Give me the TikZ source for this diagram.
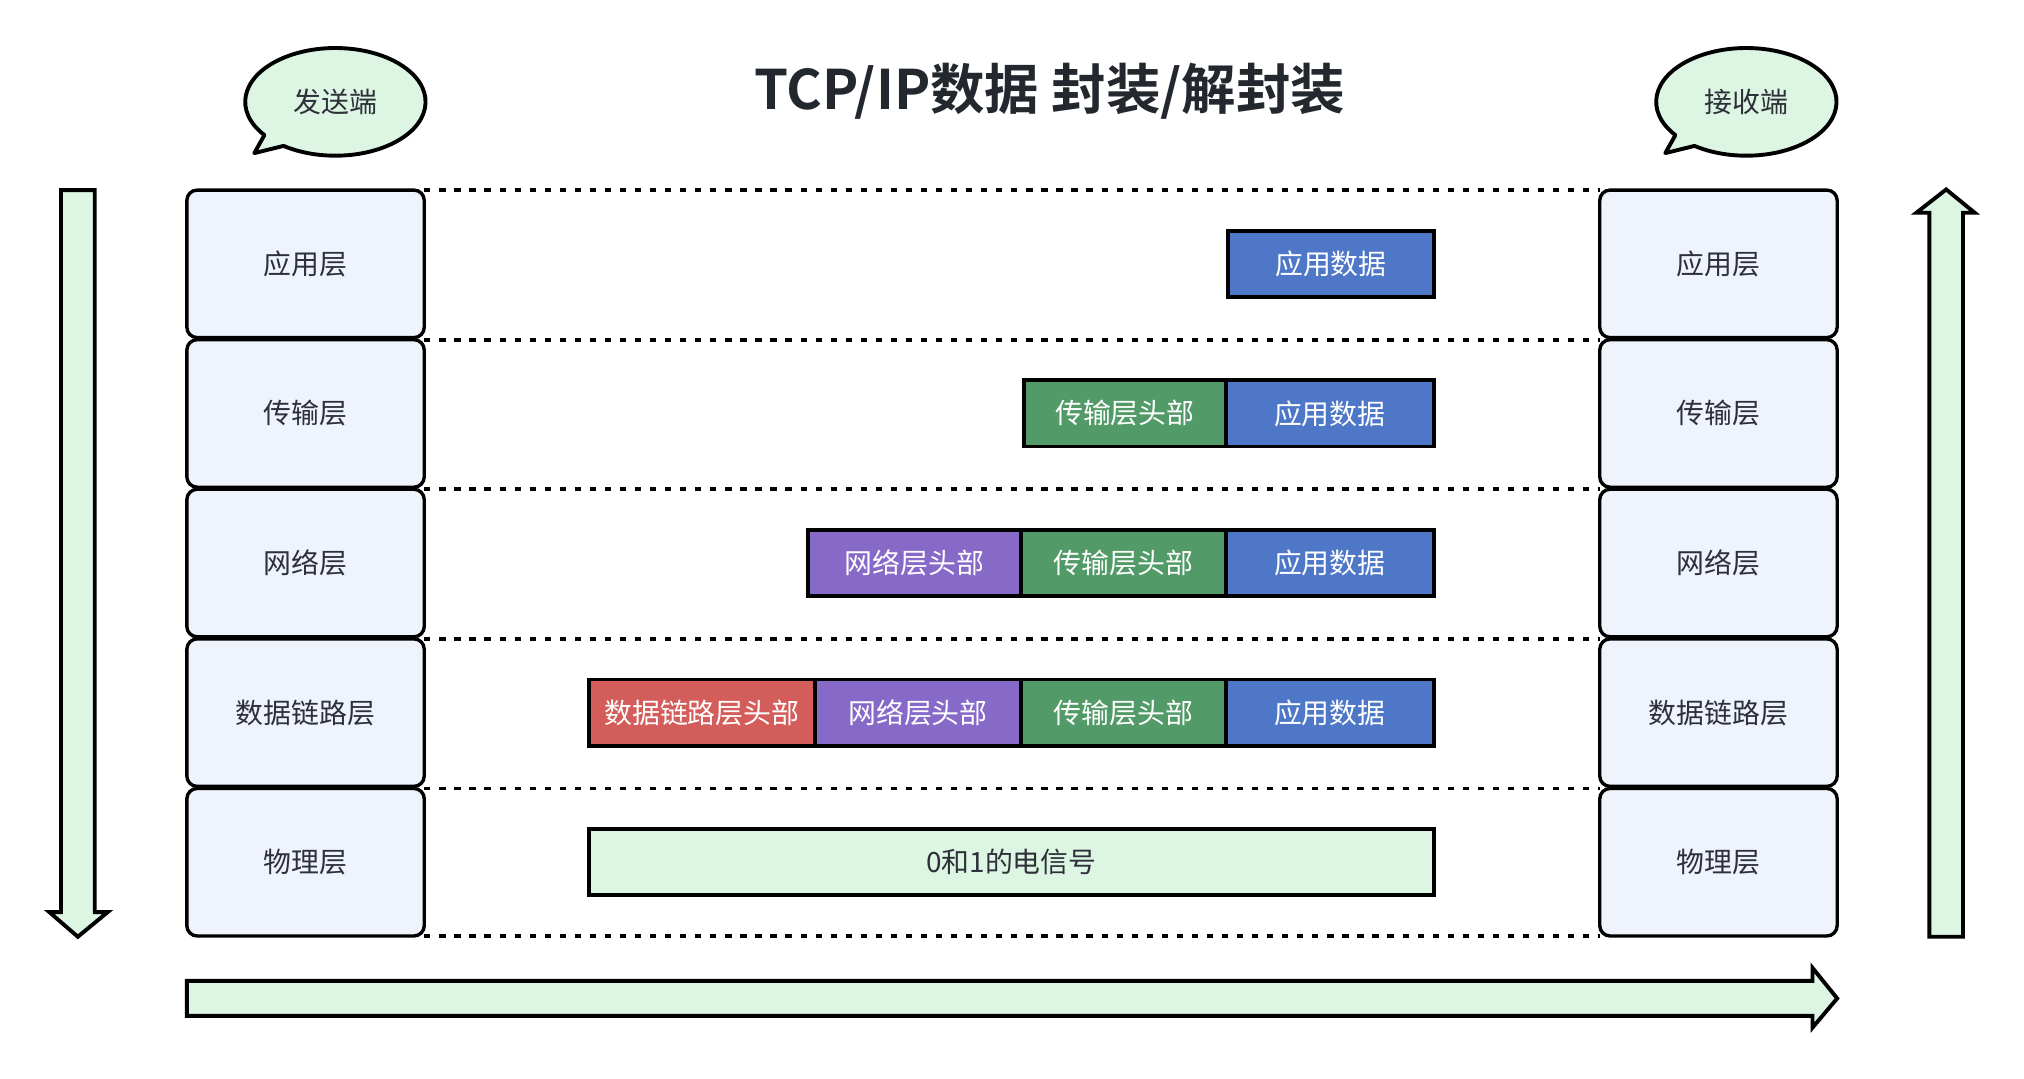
\documentclass[tikz,border=0pt]{standalone}
\usepackage{fontspec}
\setmainfont{Noto Sans CJK SC}[BoldFont={* Bold}]
\definecolor{boxfill}{HTML}{EEF3FC}
\definecolor{lgreen}{HTML}{DDF5E3}
\definecolor{cblue}{HTML}{4E78C7}
\definecolor{cgreen}{HTML}{529A67}
\definecolor{cpurple}{HTML}{8769C8}
\definecolor{cred}{HTML}{D35D5A}
\definecolor{tdark}{HTML}{2D3038}
\definecolor{ttitle}{HTML}{23272E}
\begin{document}
\begin{tikzpicture}[x=1pt,y=-1pt,
  txt/.style={font=\fontsize{21.5}{26}\selectfont},
  layer/.style={txt, draw=black, line width=2.6pt, fill=boxfill, rounded corners=8pt,
    minimum width=183pt, minimum height=113.7pt, inner sep=0pt, outer sep=0pt, text=tdark},
  pkt/.style={txt, draw=black, line width=3pt, minimum height=51pt, inner sep=0pt,
    outer sep=0pt, text=white, anchor=west},
  dotline/.style={line width=3pt, dash pattern=on 4.8pt off 6.8pt},
  bubble/.style={draw=black, line width=3pt, fill=lgreen, line join=round},
  bigarrow/.style={draw=black, line width=3pt, fill=lgreen, line join=miter}
]
\useasboundingbox (0,0) rectangle (1560,831);

% title
\node[font=\fontsize{42}{48}\selectfont\bfseries, text=ttitle] (title) at (809,70) {TCP/IP数据 封装/解封装};

% speech bubbles
\draw[bubble] (258.5,78.5) ++(141.9:69.5 and 41.5)
  arc[start angle=141.9, end angle=485.1, x radius=69.5, y radius=41.5] -- (196,118) -- cycle;
\node[txt, text=tdark] (snd) at (258.5,78.5) {发送端};
\draw[bubble] (1346,78.5) ++(141.9:69.5 and 41.5)
  arc[start angle=141.9, end angle=485.1, x radius=69.5, y radius=41.5] -- (1283.5,118) -- cycle;
\node[txt, text=tdark] (rcv) at (1346,78.5) {接收端};

% big arrows
\draw[bigarrow] (47,146.5) -- (73,146.5) -- (73,703) -- (83,703) -- (60,722) -- (38,703) -- (47,703) -- cycle;
\draw[bigarrow] (1487,722) -- (1513,722) -- (1513,164) -- (1522,164) -- (1500,146) -- (1477,164) -- (1487,164) -- cycle;
\draw[bigarrow] (144,756) -- (1397,756) -- (1397,746) -- (1416,769.5) -- (1397,792) -- (1397,783) -- (144,783) -- cycle;

% layer boxes
\foreach \n/\t/\c in {1/应用层/203.35, 2/传输层/318.65, 3/网络层/433.95, 4/数据链路层/549.25, 5/物理层/664.55}{
  \node[layer] (L\n) at (235.5,\c) {\t};
  \node[layer] (R\n) at (1324.5,\c) {\t};
}

% dotted separators
\draw[dotline] (L1.north east) -- (R1.north west);
\draw[dotline] (L2.north east) -- (R2.north west);
\draw[dotline] (L3.north east) -- (R3.north west);
\draw[dotline] (L4.north east) -- (R4.north west);
\draw[dotline] (L5.north east) -- (R5.north west);
\draw[dotline] (L5.south east) -- (R5.south west);

% packets
\node[pkt, fill=cblue, minimum width=158.4pt] (p1a) at (946.6,203.35) {应用数据};

\node[pkt, fill=cgreen, minimum width=156pt] (p2t) at (789,318.65) {传输层头部};
\node[pkt, fill=cblue, minimum width=160pt] (p2a) at (p2t.east) {应用数据};

\node[pkt, fill=cpurple, minimum width=164pt] (p3n) at (623,433.95) {网络层头部};
\node[pkt, fill=cgreen, minimum width=158pt] (p3t) at (p3n.east) {传输层头部};
\node[pkt, fill=cblue, minimum width=160pt] (p3a) at (p3t.east) {应用数据};

\node[pkt, fill=cred, minimum width=174pt] (p4d) at (454,549.25) {数据链路层头部};
\node[pkt, fill=cpurple, minimum width=159pt] (p4n) at (p4d.east) {网络层头部};
\node[pkt, fill=cgreen, minimum width=158pt] (p4t) at (p4n.east) {传输层头部};
\node[pkt, fill=cblue, minimum width=160pt] (p4a) at (p4t.east) {应用数据};

\node[pkt, fill=lgreen, text=tdark, minimum width=651pt] (p5) at (454,664.55) {0和1的电信号};
\end{tikzpicture}
\end{document}
